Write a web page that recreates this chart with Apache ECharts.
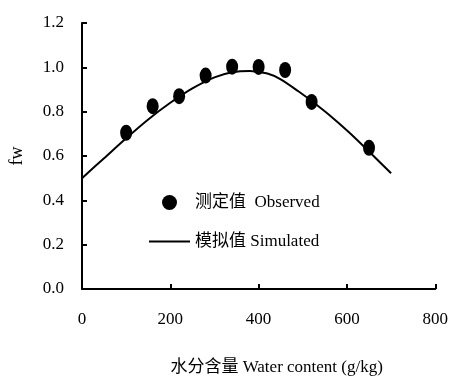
<!DOCTYPE html>
<html>
<head>
<meta charset="utf-8">
<script src="https://cdn.jsdelivr.net/npm/echarts@6/dist/echarts.min.js"></script>
<style>html,body{margin:0;padding:0;background:#fff;}#c{width:451px;height:381px;}</style>
</head>
<body>
<div id="c"></div>
<script>
const observedX = [100, 160, 220, 280, 340, 400, 460, 520, 650];
const observedY = [0.705, 0.825, 0.87, 0.963, 1.003, 1.002, 0.988, 0.844, 0.637];
const simulatedX = [0, 50, 100, 150, 200, 250, 300, 340, 380, 420, 450, 490, 520, 560, 604, 650, 700];
const simulatedY = [0.50, 0.59, 0.68, 0.765, 0.84, 0.905, 0.955, 0.978, 0.984, 0.972, 0.946, 0.892, 0.848, 0.785, 0.708, 0.62, 0.522];
const xTicks = [0, 200, 400, 600, 800];
const yTicks = [0.0, 0.2, 0.4, 0.6, 0.8, 1.0, 1.2];

const FONT = "'Liberation Serif', 'Noto Sans CJK SC', serif";
const chart = echarts.init(document.getElementById('c'), null, {renderer: 'canvas'});
chart.setOption({
  animation: false,
  backgroundColor: '#fff',
  textStyle: {fontFamily: FONT, color: '#000'},
  grid: {left: 81, right: 14, top: 23, bottom: 88, containLabel: false},
  legend: {
    orient: 'vertical',
    left: 149, top: 194, padding: 0,
    itemWidth: 41, itemHeight: 15, itemGap: 22,
    textStyle: {fontFamily: FONT, fontSize: 17, color: '#000'},
    data: [
      {name: '测定值  Observed', icon: 'circle'},
      {name: '模拟值 Simulated', icon: 'path://M0,0M0,6.5L41,6.5L41,8.5L0,8.5ZM41,15'}
    ]
  },
  xAxis: {
    type: 'value', min: xTicks[0], max: xTicks[xTicks.length - 1], interval: 200,
    name: '水分含量 Water content (g/kg)', nameLocation: 'middle', nameGap: 70,
    nameTextStyle: {fontFamily: FONT, fontSize: 17, color: '#000', padding: [0, 0, 0, 36]},
    axisLine: {show: true, lineStyle: {color: '#000', width: 2}},
    axisTick: {show: true, inside: true, length: 5, lineStyle: {color: '#000', width: 2}},
    axisLabel: {fontFamily: FONT, fontSize: 17, color: '#000', margin: 22},
    splitLine: {show: false}
  },
  yAxis: {
    type: 'value', min: yTicks[0], max: yTicks[yTicks.length - 1], interval: 0.2,
    name: 'fw', nameLocation: 'middle', nameGap: 56,
    nameTextStyle: {fontFamily: FONT, fontSize: 18, color: '#000'},
    axisLine: {show: true, lineStyle: {color: '#000', width: 2}},
    axisTick: {show: true, inside: true, length: 5, lineStyle: {color: '#000', width: 2}},
    axisLabel: {fontFamily: FONT, fontSize: 17, color: '#000', margin: 18,
      formatter: v => v.toFixed(1)},
    splitLine: {show: false}
  },
  series: [
    {
      name: '测定值  Observed', type: 'scatter',
      symbol: 'circle', symbolSize: [12, 16],
      itemStyle: {color: '#000', opacity: 1},
      data: observedX.map((x, i) => [x, observedY[i]]),
      z: 3
    },
    {
      name: '模拟值 Simulated', type: 'line', smooth: 0.3,
      showSymbol: false, symbol: 'none',
      lineStyle: {color: '#000', width: 2},
      itemStyle: {color: '#000'},
      data: simulatedX.map((x, i) => [x, simulatedY[i]]),
      z: 2
    }
  ]
});
</script>
</body>
</html>
